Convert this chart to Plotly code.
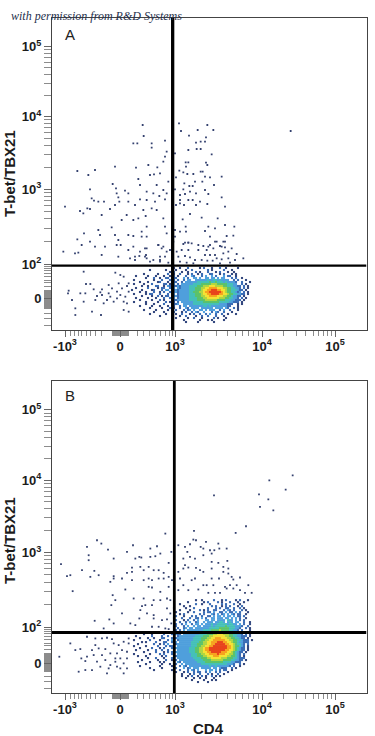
import math
import plotly.graph_objects as go

# Cytometer display channels (0-943 on CD4, 0-937 on T-bet/TBX21)
x_tick_channels = [39, 204, 369, 630, 849]
x_tick_labels = ["-10<sup>3</sup>", "0", "10<sup>3</sup>", "10<sup>4</sup>", "10<sup>5</sup>"]
y_tick_labels = ["0", "10<sup>2</sup>", "10<sup>3</sup>", "10<sup>4</sup>", "10<sup>5</sup>"]
a_y_tick_channels = [95, 198, 423, 640, 850]
b_y_tick_channels = [90, 198, 421, 639, 852]
a_gate = (362, 193)
b_gate = (367, 182)

a_sparse = [
 (272,615),(275,582),(244,560),(256,560),(299,560),(299,547),(339,568),(344,535),(339,520),(334,505),(189,490),(252,487),(316,488),(289,495),(76,477),(129,480),(109,465),(294,465),(306,467),(324,470),(259,453),(182,438),(192,425),(114,422),(219,418),(264,435),(314,435),(334,420),(349,445),(284,415),(304,410),(322,402),(344,410),(194,410),(199,398),(229,410),(119,395),(126,388),(139,385),(156,385),(39,370),(84,357),(94,350),(106,365),(114,363),(174,363),(189,375),(202,385),(229,385),(264,392),(249,375),(284,390),(309,385),(339,392),(274,360),(281,342),(299,365),(314,360),(334,335),(149,345),(209,330),(224,345),(244,330),(259,335),(339,310),(344,290),(179,308),(139,300),(96,290),(76,272),(144,285),(189,285),(199,270),(229,285),(244,282),(269,295),(284,310),(269,280),(284,280),(89,255),(114,265),(129,250),(159,250),(194,255),(206,255),(229,240),(279,245),(282,225),(319,255),(334,250),(344,235),(34,235),(69,230),(79,232),(149,225),(199,220),(249,220),(262,222),(324,220),(354,240),(234,215),(284,215),(304,210),(324,205),
 (381,620),(466,615),(387,597),(437,600),(484,600),(716,597),(411,583),(462,578),(432,562),(446,565),(459,565),(409,540),(434,543),(446,543),(369,530),(479,527),(409,503),(401,503),(462,502),(466,495),(402,490),(394,473),(382,478),(446,475),(452,475),(406,468),(424,468),(459,460),(474,458),(372,458),(509,460),(429,445),(397,440),(451,445),(486,435),(412,432),(422,432),(369,422),(394,422),(414,415),(432,410),(459,420),(469,408),(384,405),(399,408),(509,398),(384,390),(409,390),(422,390),(444,385),(384,380),(396,375),(432,375),(466,378),(519,370),(372,375),(414,348),(449,337),(497,335),(392,332),(519,315),(469,310),(489,305),(547,310),(369,300),(384,295),(401,310),(402,295),(459,297),(474,280),(524,282),(544,283),(369,280),(364,265),(399,262),(409,262),(494,265),(514,265),(439,255),(454,252),(469,250),(484,245),(504,252),(519,248),(539,245),
 (394,258),(409,262),(419,260),(389,240),(409,240),(374,235),(439,240),(464,240),(489,265),(519,265),(474,255),(509,250),(459,225),(474,225),(489,225),(514,230),(529,235),(554,228),(379,220),(399,222),(414,218),(429,210),(449,210),(466,208),(482,208),(494,215),(509,212),(529,215),(549,210),(574,215),(384,205),(404,202),(424,200),(504,200),(534,202),(244,250),(264,235),(284,245),(319,255),(329,245),(279,220),(294,205),(324,210),(339,220),(349,202),(249,210),
 (50,118),(48,110),(60,90),(70,65),(70,45),(95,175),(85,110),(102,138),(115,138),(125,122),(100,110),(135,102),(150,122),(150,105),(170,135),(180,125),(190,172),(205,165),(215,160),(200,140),(210,125),(225,132),(185,85),(195,95),(205,105),(220,100),(225,80),(230,115),(120,55),(147,45),(130,90),(165,90),(175,100),(155,80),(215,60),(230,55),(195,115),(215,85),(230,140),(145,113),(170,110),(95,85),
]

b_sparse = [
 (340,479),(135,459),(148,449),(105,439),(168,431),(243,444),(295,434),(315,441),(225,424),(358,424),(110,414),(110,399),(185,404),(250,404),(262,409),(268,407),(295,409),(310,411),(325,419),(240,377),(27,387),(90,369),(127,367),(115,349),(140,354),(45,351),(55,354),(240,364),(225,361),(265,379),(275,369),(290,379),(305,369),(320,369),(335,361),(350,391),(175,334),(185,344),(210,344),(185,351),(240,339),(275,339),(290,344),(300,339),(320,344),(335,344),(350,349),(62,306),(220,311),(290,319),(300,317),(325,304),(350,319),(360,339),(182,294),(190,279),(178,264),(245,284),(275,284),(305,279),(355,279),(345,284),(325,279),(280,264),(270,261),(300,264),(345,254),(210,239),(265,249),(285,239),(305,234),(355,239),(128,217),(172,221),(185,209),(155,194),(235,209),(250,204),(262,224),(305,224),(330,219),(345,221),(358,209),(300,199),(320,199),(340,194),(350,192),
 (105,169),(55,149),(70,129),(85,132),(22,109),(88,104),(105,109),(125,114),(150,114),(100,96),(135,94),(145,79),(165,166),(180,162),(150,164),(130,164),(140,134),(160,132),(175,119),(190,104),(205,104),(225,104),(215,89),(175,84),(195,79),(205,74),(225,74),(120,69),(100,69),(80,64),(170,74),(215,59),(230,149),(215,154),(230,164),(200,144),(210,129),(225,124),(195,119),(185,149),(130,144),(160,99),(190,94),(165,59),(120,129),
 (722,654),(652,639),(701,611),(486,594),(621,597),(649,582),(624,559),(664,549),(582,501),(551,481),(426,487),(424,461),(432,459),(462,454),(499,449),(399,439),(446,439),(379,444),(414,447),(474,429),(487,429),(502,434),(524,434),(454,434),(406,424),(414,409),(429,404),(454,414),(479,419),(394,404),(479,394),(499,391),(526,397),(399,384),(432,376),(379,364),(394,374),(409,377),(444,369),(454,364),(479,374),(514,379),(529,374),(384,344),(419,339),(429,344),(479,344),(501,344),(514,364),(529,359),(544,341),(564,347),(539,349),(394,324),(454,324),(484,324),(519,319),(534,324),(554,324),(589,324),(379,309),(409,309),(439,311),(464,324),(469,301),(489,301),(504,301),(524,314),(544,314),(564,309),(579,301),(599,301),
]

# Binned population density, level per 6x6-channel bin; "|" marks channel 366 on CD4
a_density_top = 186
a_density = [
 "|1..1...2.....1.2...1...2..1.....1",
 "..........1.......1...|.1....1..2.......2.1.....2...1....",
 "....................1.|2...1..1...2.1...2...1.2...1..1",
 ".......1......1....2..|1..2...1.2..1.2...22...1.2...1.1",
 "...1.....1...1...1..1.|2.1...2..32...2.3..3.2...3.22..1",
 "........1...2..1..22..|22...3.2..33.3..33.33.3.33...2.2..1",
 "..1.........1...2...2.|2.2..2.33..33333343344343333..2.2...1",
 ".....1...1....12...1.2|22..2.33333344444454454443433332..2...1",
 "..1....1...2.....22.1.|3.2.3333334444555556665555544433..2.1",
 "......1..1...22..1.32.|2232333344445556667776666554443322.2.1",
 "...1.....2....1.22..23|3.32333344455566778888777665544332.2.1",
 ".1....1....12...2.33.2|23233333444555677889998877655444322.1.",
 ".....1..1...2..1.2..23|2323333344555667889999998765544323.2.1",
 "..1.....1.22...2...2.2|3.2333334445556778899998877655443322.1",
 "......1....1..2.1.22..|2323333344455566778888777665543322.1",
 "...1.....1...1...2..2.|3.2333334444555667777776665544332.2.1",
 ".....1.....1...2.1...2|2233333344445555666666555544433222.1",
 "..1.....1.....1...2.1.|2.2.33333344444555555554444433222.1",
 "........1...1....2...1|223..3333344444444444443333222..1.1",
 ".....1.....1...1...1..|2..2.33.333333344343333333322...1",
 "..........1.....1...2.|1..2..32.3333.333333.3333.32..2.1",
 ".......1.....1.....1..|.2...2.23.3..33.3.333..2.3..2...1",
 "............1....1....|2...1.2..2.32..3...2.32..2...1",
 "..........1.......1...|.1..2...1.2..2..2.3..2..2..1...1",
 "...............1......|...1..2....1..2..2...2...1",
 "|.1.....1..2...1.....2.1...1",
 "|.....1.......1...1.1.....1",
 "|......1.....1.......1",
]

b_density_top = 279
b_density = [
 "|...........1..1.....2...1.2....1.2...1",
 "|.......1.......1.2....2.1...2...1..1.",
 "|...1.......2..1...2.....2.2...2..1...",
 "|.....1..1..........2.2..1.2.2...1.2..",
 "|1.....1...2......2...2.2..22..2..2.1",
 "|...1....1....2.1.2..22...2.32.2...2.1",
 "|.1.....1..2....2.22.3..22.3.22.3.2...1",
 "|...1.2.......2.2...32.3.23.3.32.22..1",
 "|.2...1...2.2..2..22.3.33.3.33.3.22.2",
 "|2...2...2..22.3.2..33.333.33.3.3.2..1",
 "|.2...1.2..2.3...33.33.3333.433.3.2.2.",
 "|2..2..2.3..23..3.333.33443.343.33..2..1",
 "|.2..2.3..2.33.3.3334334444434433.3.2..1",
 "|22...2.3..3.33.33334344444544443332..2",
 "|2.2..23.33.33333334444455555444332..2.1",
 "|22.2.3.33333333444455556555544332.2...1",
 "|2.2333.333333344445555666665554433222.1",
 ".......1...1.....2...2|2322.333333334444555667776665544332.2.1",
 "...1.......2....2..2..|3.23333333344445556677777766554433222.1",
 ".....1...1..1...22...2|223333333344445556677888777665544322.1",
 "..1.......2....1...2.3|3.233333334444556677888888776655443222.1",
 "......1.1....2...22..2|23.33333344445566778889998877655433222",
 "....1.......2..1.2.3..|323333333444555667788999998877654432.2",
 "..1.....1.....2...2.22|3.3333333444556677889999999887655432.1",
 ".....1.....2...1.2...2|233333334445566788999999999887654322.1",
 "...1.....1...2..2..2..|3.3333334445566788999999998877654322.1",
 ".......1.....2...1.2.2|33333333444556677889999988877654322.1",
 "..1.......1....2.2...2|2.33333334445566778888988877665432.2",
 "....1...1.......1.2...|3233333334445556677788877776655432.1",
 ".........1...2...1...2|2.3333333344445556677777666555443222",
 "......1.......1...2..1|32.33333333444455556666665555443322.1",
 "....1.....1....1.1....|2.32.33333334444555555555444433222",
 "........1.......1...1.|22..3.3333333344444444444443332..2.1",
 ".....1.........1.....1|2..2.32.333333333343343333332.2..1",
 "..........1.....1.....|.2...3.23.333.33333.33.3222..2.1",
 "............1........1|1..2...2.32.3...3.33.3.2.22..1",
 "|.1...1.2..2.22..2.3..2.2...1",
 "|....1...1.2..2...2.1..2..1",
 "|....1..1.2..1.2.1..2.1.1",
 "|......1...1..1..1...1",
 "|.........1.....1...1.1",
 "|............1....1",
]

level_colors = ["#34487f", "#3b6db5", "#4f9fdc", "#45c0b8", "#5cc36a",
                "#b0d642", "#f6e234", "#f6a21f", "#e8441c"]

BIN = 6
SPLIT_CHANNEL = 366
XMAX, YMAX = 943.5, 937.5
W, H = 375, 736
FONT = "Liberation Sans Narrow, Liberation Sans, sans-serif"
INK = "#1c1c1c"


def cells(rows, top):
    xs, ys, levels = [], [], []
    for r, row in enumerate(rows):
        left, right = row.split("|")
        chars = [(SPLIT_CHANNEL - (len(left) - k) * BIN, c) for k, c in enumerate(left)]
        chars += [(SPLIT_CHANNEL + k * BIN, c) for k, c in enumerate(right)]
        for cx, c in chars:
            if c != ".":
                xs.append(cx)
                ys.append(top - r * BIN)
                levels.append(int(c))
    return xs, ys, levels


def log_minor(start, per_decade, top=None):
    out = [start + per_decade * math.log10(k) for k in range(2, 10)]
    return [v for v in out if top is None or v <= top]


x_minor = ([41, 54, 66, 78, 89, 102, 114, 129, 149] + list(range(180, 232, 2)) +
           [256, 274, 291, 309, 324, 339, 352, 361] +
           log_minor(369, 261) + log_minor(630, 219, 914))
y_minor = ([15, 35, 50] + list(range(65, 120, 2)) +
           [130, 142, 150, 160, 170, 178, 184, 190] +
           log_minor(198, 225) + log_minor(423, 217) + log_minor(640, 210, 915))

fig = go.Figure()
colorscale = []
for i, c in enumerate(level_colors):
    colorscale += [[i / 9, c], [(i + 1) / 9, c]]

for suffix, rows, top, sparse in (("", a_density, a_density_top, a_sparse),
                                  ("2", b_density, b_density_top, b_sparse)):
    xs, ys, levels = cells(rows, top)
    fig.add_trace(go.Scatter(
        x=[p[0] for p in sparse], y=[p[1] for p in sparse],
        mode="markers", xaxis="x" + suffix, yaxis="y" + suffix,
        marker=dict(symbol="square", size=1.8, color="#34416f", line=dict(width=0)),
        hoverinfo="skip", showlegend=False))
    fig.add_trace(go.Scatter(
        x=xs, y=ys, mode="markers", xaxis="x" + suffix, yaxis="y" + suffix,
        marker=dict(symbol="square", size=2.1, color=levels, cmin=0.5, cmax=9.5,
                    colorscale=colorscale, showscale=False, line=dict(width=0)),
        hoverinfo="skip", showlegend=False))


def xaxis(domain_anchor):
    return dict(domain=[52 / W, 366.5 / W], range=[0, XMAX], anchor=domain_anchor,
                showgrid=False, zeroline=False, showline=True, mirror=True,
                linecolor="#444", linewidth=1, ticks="outside", ticklen=6, tickwidth=1,
                tickcolor="#666", tickmode="array", tickvals=x_tick_channels,
                ticktext=x_tick_labels, ticklabelstandoff=-2,
                tickfont=dict(family=FONT, size=13, color=INK, weight="bold"),
                minor=dict(tickmode="array", tickvals=x_minor, ticks="outside", ticklen=5,
                           tickwidth=1, tickcolor="#8c8c8c", showgrid=False))


def yaxis(dom, anchor, vals):
    return dict(domain=dom, range=[0, YMAX], anchor=anchor,
                showgrid=False, zeroline=False, showline=True, mirror=True,
                linecolor="#444", linewidth=1, ticks="outside", ticklen=7, tickwidth=1,
                tickcolor="#666", tickmode="array", tickvals=vals,
                ticktext=y_tick_labels,
                tickfont=dict(family=FONT, size=13, color=INK, weight="bold"),
                minor=dict(tickmode="array", tickvals=y_minor, ticks="outside", ticklen=7,
                           tickwidth=1, tickcolor="#8c8c8c", showgrid=False))


shapes = []
for sx, sy, gate, vw, hw in (("x", "y", a_gate, 3.3, 2.2), ("x2", "y2", b_gate, 2.8, 3)):
    shapes.append(dict(type="line", xref=sx, yref=sy, x0=gate[0], x1=gate[0], y0=0, y1=YMAX,
                       line=dict(color="#000", width=vw), layer="above"))
    shapes.append(dict(type="line", xref=sx, yref=sy, x0=0, x1=XMAX, y0=gate[1], y1=gate[1],
                       line=dict(color="#000", width=hw), layer="above"))


def note(text, px, py, **kw):
    font = kw.pop("font")
    return dict(text=text, x=px / W, y=1 - py / H, xref="paper", yref="paper",
                showarrow=False, font=font, xanchor=kw.pop("xanchor", "center"),
                yanchor="middle", **kw)


title_font = dict(family=FONT, size=15, color=INK, weight="bold")
panel_font = dict(family="Liberation Sans, sans-serif", size=15, color="#222")
annotations = [
    note("with permission from R&D Systems", 9, 16, xanchor="left",
         font=dict(family="Liberation Serif, serif", size=12, color="#26304d", style="italic")),
    note("A", 70, 34, font=panel_font),
    note("B", 70, 395, font=panel_font),
    note("T-bet/TBX21", 9, 174, textangle=-90, font=title_font),
    note("T-bet/TBX21", 9, 541, textangle=-90, font=title_font),
    note("CD4", 208, 728, font=title_font),
]

fig.update_layout(
    width=W, height=H, autosize=False, margin=dict(l=0, r=0, t=0, b=0),
    paper_bgcolor="white", plot_bgcolor="white", showlegend=False,
    xaxis=xaxis("y"), xaxis2=xaxis("y2"),
    yaxis=yaxis([(H - 330) / H, (H - 17.5) / H], "x", a_y_tick_channels),
    yaxis2=yaxis([(H - 693) / H, (H - 381) / H], "x2", b_y_tick_channels),
    shapes=shapes, annotations=annotations,
)
fig.write_html("out.html", config={"displayModeBar": False},
               post_script="document.body.style.margin='0';")
